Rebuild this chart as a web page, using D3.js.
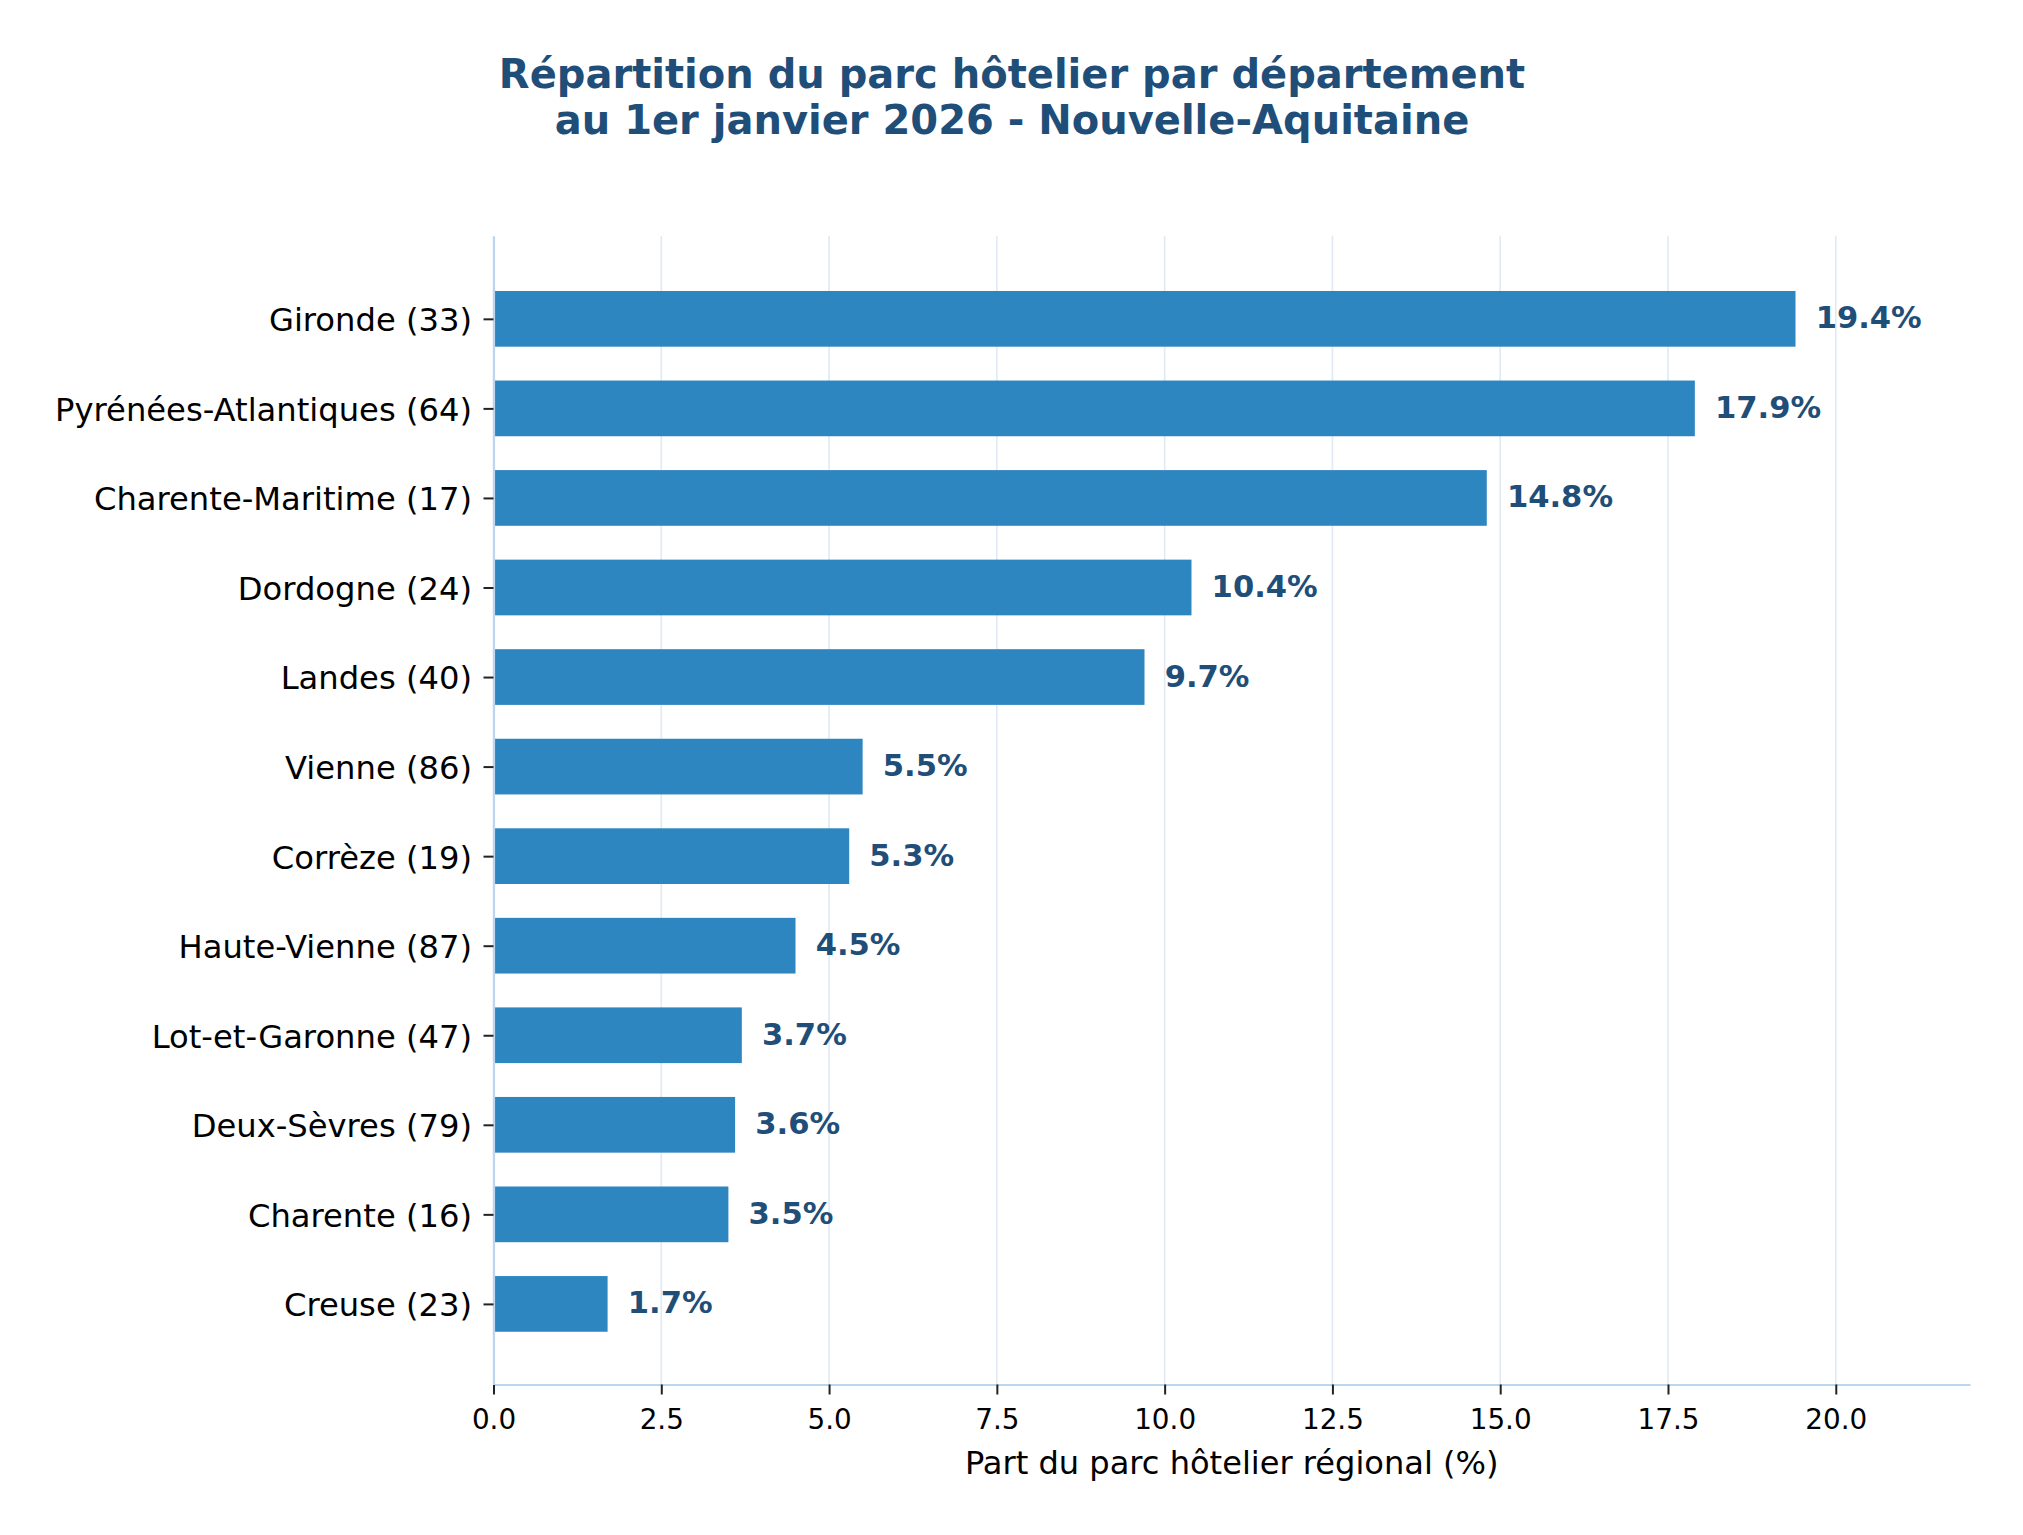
<!DOCTYPE html>
<html>
<head>
<meta charset="utf-8">
<script src="https://cdn.jsdelivr.net/npm/d3@7"></script>
<style>
  body { margin: 0; background: #fff; }
  svg { display: block; font-family: "DejaVu Sans", sans-serif; }
</style>
</head>
<body>
<div class="chart"></div>
<script>
// Data.
const departements = [
  "Gironde (33)",
  "Pyrénées-Atlantiques (64)",
  "Charente-Maritime (17)",
  "Dordogne (24)",
  "Landes (40)",
  "Vienne (86)",
  "Corrèze (19)",
  "Haute-Vienne (87)",
  "Lot-et-Garonne (47)",
  "Deux-Sèvres (79)",
  "Charente (16)",
  "Creuse (23)",
];
const parts = [19.4, 17.9, 14.8, 10.4, 9.7, 5.5, 5.3, 4.5, 3.7, 3.6, 3.5, 1.7];
const xTicks = [0, 2.5, 5, 7.5, 10, 12.5, 15, 17.5, 20];

const titleLines = [
  "Répartition du parc hôtelier par département",
  "au 1er janvier 2026 - Nouvelle-Aquitaine",
];
const xLabel = "Part du parc hôtelier régional (%)";

const barColor = "#2e86c1";
const darkBlue = "#1f4e79";
const spineColor = "#bcd6ee";
const gridColor = "#dfeaf5";

// Layout.
const W = 2023, H = 1535;
const plot = { left: 493.5, right: 1970, top: 236, bottom: 1384.5 };

const svg = d3
  .select(".chart")
  .append("svg")
  .attr("width", W)
  .attr("height", H);

svg.append("rect").attr("width", W).attr("height", H).attr("fill", "#fff");

// Scales.
const xScale = d3.scaleLinear().domain([0, 22]).range([plot.left, plot.right]);
const yScale = d3
  .scaleLinear()
  .domain([-0.925, 11.9])
  .range([plot.top, plot.bottom]);
const barHalf = 0.311;

// Title.
const title = svg
  .append("text")
  .attr("text-anchor", "middle")
  .attr("font-size", "40px")
  .attr("font-weight", "bold")
  .attr("fill", darkBlue);
titleLines.forEach((t, i) => {
  title
    .append("tspan")
    .attr("x", 1012)
    .attr("y", 87.7 + i * 46.5)
    .text(t);
});

// Grid.
svg
  .append("g")
  .attr("class", "grid")
  .selectAll("line")
  .data(xTicks)
  .enter()
  .append("line")
  .attr("x1", (d) => xScale(d))
  .attr("x2", (d) => xScale(d))
  .attr("y1", plot.top)
  .attr("y2", plot.bottom)
  .attr("stroke", gridColor)
  .attr("stroke-width", 1.6);

// Bars.
svg
  .append("g")
  .attr("class", "bars")
  .selectAll("rect")
  .data(parts)
  .enter()
  .append("rect")
  .attr("x", xScale(0))
  .attr("y", (d, i) => yScale(i - barHalf))
  .attr("width", (d) => xScale(d) - xScale(0))
  .attr("height", yScale(barHalf) - yScale(-barHalf))
  .attr("fill", barColor);

// Value labels.
svg
  .append("g")
  .attr("class", "values")
  .selectAll("text")
  .data(parts)
  .enter()
  .append("text")
  .attr("x", (d) => xScale(d + 0.3))
  .attr("y", (d, i) => yScale(i))
  .attr("dy", "0.31em")
  .attr("font-size", "30.6px")
  .attr("font-weight", "bold")
  .attr("fill", darkBlue)
  .text((d) => `${d.toFixed(1)}%`);

// X axis.
const xAxis = d3
  .axisBottom(xScale)
  .tickValues(xTicks)
  .tickFormat(d3.format(".1f"))
  .tickSizeInner(10)
  .tickSizeOuter(0)
  .tickPadding(15);

const xAxisDraw = svg
  .append("g")
  .attr("class", "x axis")
  .attr("transform", `translate(0, ${plot.bottom})`)
  .call(xAxis);

xAxisDraw.select(".domain").attr("stroke", spineColor).attr("stroke-width", 2.2);
xAxisDraw.selectAll(".tick line").attr("stroke", "#222").attr("stroke-width", 2);
xAxisDraw
  .selectAll(".tick text")
  .attr("font-family", "DejaVu Sans")
  .attr("font-size", "27.8px")
  .attr("fill", "#000");

// Y axis.
const yAxis = d3
  .axisLeft(yScale)
  .tickValues(d3.range(departements.length))
  .tickFormat((i) => departements[i])
  .tickSizeInner(10)
  .tickSizeOuter(0)
  .tickPadding(11.5);

const yAxisDraw = svg
  .append("g")
  .attr("class", "y axis")
  .attr("transform", `translate(${plot.left}, 0)`)
  .call(yAxis);

yAxisDraw.select(".domain").attr("stroke", spineColor).attr("stroke-width", 2.2);
yAxisDraw.selectAll(".tick line").attr("stroke", "#222").attr("stroke-width", 2);
yAxisDraw
  .selectAll(".tick text")
  .attr("font-family", "DejaVu Sans")
  .attr("font-size", "32.2px")
  .attr("dy", "0.37em")
  .attr("fill", "#000");

// X label.
svg
  .append("text")
  .attr("x", (plot.left + plot.right) / 2)
  .attr("y", 1474)
  .attr("text-anchor", "middle")
  .attr("font-size", "32.1px")
  .attr("fill", "#000")
  .text(xLabel);
</script>
</body>
</html>
